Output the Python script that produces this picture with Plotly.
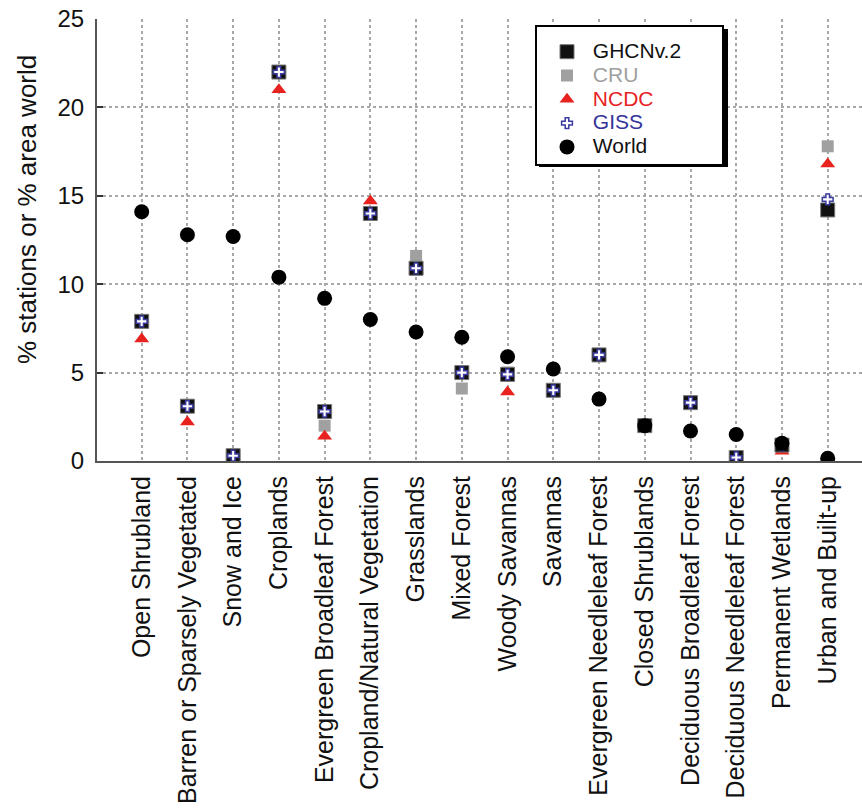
import plotly.graph_objects as go

categories = ["Open Shrubland", "Barren or Sparsely Vegetated", "Snow and Ice", "Croplands",
              "Evergreen Broadleaf Forest", "Cropland/Natural Vegetation", "Grasslands",
              "Mixed Forest", "Woody Savannas", "Savannas", "Evergreen Needleleaf Forest",
              "Closed Shrublands", "Deciduous Broadleaf Forest", "Deciduous Needleleaf Forest",
              "Permanent Wetlands", "Urban and Built-up"]

ghcn = [7.9, 3.1, 0.3, 22.0, 2.8, 14.0, 10.9, 5.0, 4.9, 4.0, 6.0, 2.0, 3.3, 0.2, 0.9, 14.2]
cru = [7.9, 3.1, 0.3, 22.0, 2.0, 14.0, 11.6, 4.1, 5.0, 4.0, 6.0, 2.0, 3.3, 0.2, 0.9, 17.8]
ncdc = [6.9, 2.2, 0.05, 21.0, 1.4, 14.7, 10.8, 4.9, 3.9, 3.8, 5.9, 1.9, 3.4, 0.1, 0.55, 16.8]
giss = [7.9, 3.1, 0.3, 22.0, 2.8, 14.0, 10.9, 5.0, 4.9, 4.0, 6.0, 2.0, 3.3, 0.2, 0.9, 14.8]
world = [14.1, 12.8, 12.7, 10.4, 9.2, 8.0, 7.3, 7.0, 5.9, 5.2, 3.5, 2.0, 1.7, 1.5, 1.0, 0.15]

y_ticks = [0, 5, 10, 15, 20, 25]

FONT = "Liberation Sans, Arial, sans-serif"
W, H = 862, 810
ML, MR, MT, MB = 97, 0, 19, 349
NB = "\u00a0"
pw = W - ML - MR
ph = H - MT - MB


def px(x):
    return (x - ML) / pw


def py(y):
    return (H - MB - y) / ph


def lname(text, color, trail=0):
    return f"<span style='font-size:21px;color:{color}'>{NB}{text}{NB * trail}</span>"


fig = go.Figure()
fig.add_trace(go.Scatter(x=categories, y=cru, mode="markers", name=lname("CRU", "#a0a0a0"),
                         legendrank=2,
                         marker=dict(symbol="square", size=12, color="#a0a0a0", line=dict(width=0))))
fig.add_trace(go.Scatter(x=categories, y=ncdc, mode="markers", name=lname("NCDC", "#e8231f"),
                         legendrank=3,
                         marker=dict(symbol="triangle-up", size=13, color="#e8231f", line=dict(width=0))))
fig.add_trace(go.Scatter(x=categories, y=ghcn, mode="markers", name=lname("GHCNv.2", "#111111", 6),
                         legendrank=1,
                         marker=dict(symbol="square", size=14, color="#111111",
                                     line=dict(width=1, color="#777777"))))
fig.add_trace(go.Scatter(x=categories, y=giss, mode="markers", name=lname("GISS", "#333399"),
                         legendrank=4,
                         marker=dict(symbol="cross", size=9, color="white",
                                     line=dict(width=1.5, color="#3a3aa0"))))
fig.add_trace(go.Scatter(x=categories, y=world, mode="markers", name=lname("World", "#111111"),
                         legendrank=5,
                         marker=dict(symbol="circle", size=15, color="#000000", line=dict(width=0))))

# legend box (pixels) and its drop shadow
lx0, ly0 = 535, 25
lx1, ly1 = 724, 163
off = 4
fig.add_shape(type="rect", xref="paper", yref="paper",
              x0=px(lx0 + off), x1=px(lx1 + off),
              y0=py(ly1 + off), y1=py(ly0 + off),
              fillcolor="#000000", line=dict(width=0), layer="above")

fig.add_annotation(text="% stations or % area world", textangle=-90,
                   xref="paper", yref="paper", x=px(27), y=py(210),
                   xanchor="center", yanchor="middle", showarrow=False,
                   font=dict(family=FONT, size=26, color="#111111"))

fig.update_layout(
    width=W, height=H,
    margin=dict(l=ML, r=MR, t=MT, b=MB, autoexpand=False),
    paper_bgcolor="white", plot_bgcolor="white",
    font=dict(family=FONT, size=24, color="#111111"),
    showlegend=True,
    legend=dict(x=px(lx0), y=py(ly0), xanchor="left", yanchor="top",
                bgcolor="white", bordercolor="#000000", borderwidth=2,
                font=dict(family=FONT, size=16, color="#111111"),
                title=dict(text=NB, font=dict(size=6)),
                indentation=10, tracegroupgap=0),
    xaxis=dict(type="category", categoryorder="array", categoryarray=categories,
               range=[-0.977, 15.75], tickangle=-90, automargin=False,
               showgrid=True, gridcolor="#a8a8a8", griddash="dot", gridwidth=1.5,
               showline=True, linecolor="#555555", linewidth=2,
               ticks="", ticklabelstandoff=3,
               tickfont=dict(family=FONT, size=25, color="#111111")),
    yaxis=dict(range=[0, 25], tickvals=y_ticks, ticktext=[str(v) for v in y_ticks],
               automargin=False, ticklabeloverflow="allow",
               showgrid=True, gridcolor="#a8a8a8", griddash="dot", gridwidth=1.5,
               showline=True, linecolor="#555555", linewidth=2,
               ticks="inside", ticklen=6, tickwidth=2, tickcolor="#333333",
               ticklabelstandoff=6, zeroline=False,
               tickfont=dict(family=FONT, size=24, color="#111111")),
)

fig.write_html("out.html", config={"displayModeBar": False},
               post_script="document.body.style.margin='0';")
